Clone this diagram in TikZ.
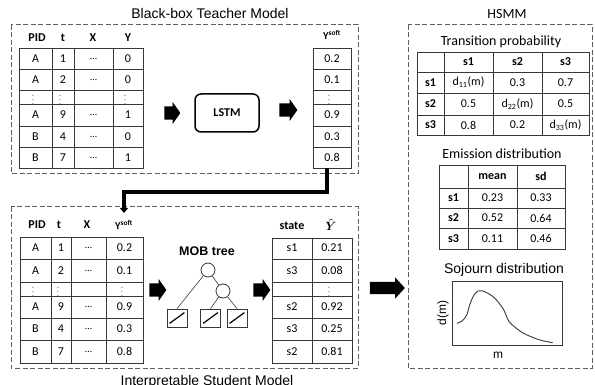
\documentclass[tikz,border=0pt]{standalone}
\usepackage{amsmath}
\usepackage{fontspec}
\setmainfont{Carlito}
\newfontfamily\arialfont{Liberation Sans}
\usepackage{tikz}
\usetikzlibrary{positioning,arrows.meta,shapes.arrows}
\definecolor{panelgray}{RGB}{95,95,95}
\definecolor{rulegray}{RGB}{55,55,55}
\newcommand{\vd}{{\fontsize{7}{7}\selectfont$\vdots$}}
\newcommand{\xdots}{{\fontsize{10}{10}\selectfont\ldots}}
\tikzset{
  dashbox/.style={draw=panelgray, line width=1pt, dash pattern=on 5pt off 2.5pt},
  tabline/.style={draw=rulegray, line width=0.8pt},
  cell/.style={inner sep=0pt, font=\fontsize{12}{14}\selectfont},
  headcell/.style={inner sep=0pt, font=\fontsize{12}{14}\selectfont\bfseries},
  softhead/.style={inner sep=0pt, font=\fontsize{10.5}{12}\selectfont\bfseries},
  paneltitle/.style={inner sep=0pt, font=\arialfont\fontsize{14}{16}\selectfont},
  subtitle/.style={inner sep=0pt, font=\fontsize{14}{16}\selectfont},
  axislabel/.style={inner sep=0pt, font=\arialfont\fontsize{12}{14}\selectfont},
  blockarrow/.style={single arrow, fill=black, inner xsep=0pt, inner ysep=6.5pt,
    single arrow head extend=4.5pt, single arrow tip angle=110, single arrow head indent=0pt},
  leafbox/.style={draw=rulegray, line width=0.8pt, minimum width=20pt, minimum height=18pt, inner sep=0pt},
  splitnode/.style={circle, draw=rulegray, line width=0.8pt, minimum size=14pt, inner sep=0pt},
  treeedge/.style={draw=rulegray, line width=0.6pt},
  feed/.style={line width=3.3pt, -{Triangle[width=8pt,length=5pt]}},
}
\begin{document}
\begin{tikzpicture}[x=1pt,y=-1pt]
  \useasboundingbox (0,0) rectangle (595,385);

  % panels
  \draw[dashbox] (11,25) rectangle (358,174);
  \draw[dashbox] (11,207) rectangle (358,368);
  \draw[dashbox] (408,25) rectangle (592,368);
  \node[paneltitle, anchor=base] (teacher) at (210,18.5) {Black-box Teacher Model};
  \node[paneltitle, anchor=base] (student) at (207,385) {Interpretable Student Model};
  \node[subtitle, anchor=base] (hsmm) at (507,19) {HSMM};

  % teacher: input table
  \draw[tabline] (19,48) rectangle (143,168);
  \foreach \ry in {69,90,104,126,147} \draw[tabline] (19,\ry) -- (143,\ry);
  \foreach \rx in {52,74,113} \draw[tabline] (\rx,48) -- (\rx,168);
  \foreach \lab/\rx [count=\c] in {PID/37,t/63,X/93,Y/128}
    \node[headcell] (ih\c) at (\rx,38) {\lab};
  \foreach \pid/\tm/\yy/\ry [count=\r] in {A/1/0/58.5,A/2/0/79.5,A/9/1/115,B/4/0/136.5,B/7/1/157.5} {
    \node[cell] (ip\r) at (35.5,\ry) {\pid};
    \node[cell] (it\r) at (63,\ry) {\tm};
    \node[cell] (ix\r) at (93.5,\ry) {\xdots};
    \node[cell] (iy\r) at (128,\ry) {\yy};
  }
  \node[cell] (ipd) at (33,97) {\vd};
  \node[cell] (itd) at (60,97) {\vd};
  \node[cell] (iyd) at (125,97) {\vd};

  \node[blockarrow, minimum height=16pt] (arr1) at (170,113) {};
  \node[headcell, draw, line width=1.5pt, rounded corners=6pt, minimum width=64pt, minimum height=38pt] (lstm) at (227,113) {LSTM};
  \node[blockarrow, minimum height=18pt] (arr2) at (286,110) {};

  % teacher: soft labels
  \draw[tabline] (313,48) rectangle (351,168);
  \foreach \ry in {69,90,104,126,147} \draw[tabline] (313,\ry) -- (351,\ry);
  \node[softhead] (ysh) at (332,35) {Y\textsuperscript{soft}};
  \foreach \sv/\ry [count=\r] in {0.2/58.5,0.1/79.5,0.9/115,0.3/136.5,0.8/157.5}
    \node[cell] (ys\r) at (332,\ry) {\sv};
  \node[cell] (ysd) at (329,97) {\vd};

  % hand over to student
  \coordinate (ysout) at (327,168);
  \coordinate (ysin) at (124,213);
  \draw[feed] (ysout) -- ++(0,24) -| (ysin);

  % student: input table
  \draw[tabline] (20,237) rectangle (143,363);
  \foreach \ry in {259,282,296,318,340} \draw[tabline] (20,\ry) -- (143,\ry);
  \foreach \rx in {51,71,106} \draw[tabline] (\rx,237) -- (\rx,363);
  \foreach \lab/\rx [count=\c] in {PID/37,t/59,X/87}
    \node[headcell] (sh\c) at (\rx,225) {\lab};
  \node[softhead] (sh4) at (124,225) {Y\textsuperscript{soft}};
  \foreach \pid/\tm/\yy/\ry [count=\r] in {A/1/0.2/248,A/2/0.1/270.5,A/9/0.9/307,B/4/0.3/329,B/7/0.8/351.5} {
    \node[cell] (sp\r) at (35.5,\ry) {\pid};
    \node[cell] (st\r) at (61,\ry) {\tm};
    \node[cell] (sx\r) at (88.5,\ry) {\xdots};
    \node[cell] (sy\r) at (124.5,\ry) {\yy};
  }
  \node[cell] (spd) at (33,289) {\vd};
  \node[cell] (std) at (58,289) {\vd};
  \node[cell] (syd) at (122,289) {\vd};

  \node[blockarrow, minimum height=17pt] (arr3) at (155.5,290) {};

  % MOB tree
  \node[inner sep=0pt, font=\arialfont\fontsize{12.5}{14}\selectfont\bfseries, anchor=base] (mob) at (207,255) {MOB tree};
  \node[splitnode] (root) at (208,270) {};
  \node[splitnode] (inner) at (223,291) {};
  \node[leafbox] (leafa) at (177,318) {};
  \node[leafbox] (leafb) at (210.5,318) {};
  \node[leafbox] (leafc) at (237,318) {};
  \draw[treeedge] (root) -- (leafa.north);
  \draw[treeedge] (root) -- (inner);
  \draw[treeedge] (inner) -- (leafb.north);
  \draw[treeedge] (inner) -- (leafc.north);
  \foreach \n in {leafa,leafb,leafc}
    \draw[line width=1.2pt] ([shift={(3,-4)}]\n.south west) -- ([shift={(-3,4)}]\n.north east);

  \node[blockarrow, minimum height=17pt] (arr4) at (259.5,290) {};

  % student: states and predictions
  \draw[tabline] (272,238) rectangle (352,363);
  \foreach \ry in {259,282,296,318,340} \draw[tabline] (272,\ry) -- (352,\ry);
  \draw[tabline] (312,238) -- (312,363);
  \node[headcell] (sth) at (292,226) {state};
  \node[headcell] (yhh) at (331,225) {$\boldsymbol{\hat{Y}}$};
  \foreach \st/\pv/\ry [count=\r] in {s1/0.21/248,s3/0.08/270.5,s2/0.92/307,s3/0.25/329,s2/0.81/351.5} {
    \node[cell] (ss\r) at (292,\ry) {\st};
    \node[cell] (sv\r) at (332,\ry) {\pv};
  }
  \node[cell] (svd) at (329,289) {\vd};

  \node[blockarrow, minimum height=35pt, inner ysep=6pt, single arrow tip angle=95] (arr5) at (384.5,288) {};

  % HSMM: transition probability
  \node[subtitle, anchor=base] (trans) at (501,46) {Transition probability};
  \draw[tabline] (417,52) rectangle (589,135);
  \foreach \ry in {72,93,115} \draw[tabline] (417,\ry) -- (589,\ry);
  \foreach \rx in {444,493,542} \draw[tabline] (\rx,52) -- (\rx,135);
  \foreach \lab/\rx [count=\c] in {s1/468.5,s2/517.5,s3/565.5}
    \node[headcell] (tc\c) at (\rx,62) {\lab};
  \foreach \lab/\ry [count=\r] in {s1/82.5,s2/104,s3/125}
    \node[headcell] (tr\r) at (430.5,\ry) {\lab};
  \node[cell] (t11) at (468.5,82.5) {d\textsubscript{11}(m)};
  \node[cell] (t12) at (517.5,82.5) {0.3};
  \node[cell] (t13) at (565.5,82.5) {0.7};
  \node[cell] (t21) at (468.5,104) {0.5};
  \node[cell] (t22) at (517.5,104) {d\textsubscript{22}(m)};
  \node[cell] (t23) at (565.5,104) {0.5};
  \node[cell] (t31) at (468.5,125) {0.8};
  \node[cell] (t32) at (517.5,125) {0.2};
  \node[cell] (t33) at (565.5,125) {d\textsubscript{33}(m)};

  % HSMM: emission distribution
  \node[subtitle, anchor=base] (emis) at (502,158.5) {Emission distribution};
  \draw[tabline] (439,165) rectangle (565,249);
  \foreach \ry in {188,208,228} \draw[tabline] (439,\ry) -- (565,\ry);
  \foreach \rx in {468,517} \draw[tabline] (\rx,165) -- (\rx,249);
  \node[headcell] (emh1) at (492.5,176.5) {mean};
  \node[headcell] (emh2) at (541,176.5) {sd};
  \foreach \st/\mv/\sv/\ry [count=\r] in {s1/0.23/0.33/198,s2/0.52/0.64/218,s3/0.11/0.46/238.5} {
    \node[headcell] (er\r) at (453.5,\ry) {\st};
    \node[cell] (em\r) at (492.5,\ry) {\mv};
    \node[cell] (es\r) at (541,\ry) {\sv};
  }

  % HSMM: sojourn distribution
  \node[paneltitle, anchor=base] (soj) at (504,273.5) {Sojourn distribution};
  \draw[tabline, line width=1pt] (452,281) rectangle (562,345);
  \draw[line width=0.9pt, rulegray] plot[smooth, tension=0.6] coordinates {(456.7,323.3) (462,321) (466.7,315) (470,304) (475,293.5) (481.7,290.7) (493,296.7) (502,307) (506,315) (509,321.5) (516,328) (525,334) (540,340) (552.7,342.7)};
  \node[axislabel, rotate=90] (dm) at (443,313) {d(m)};
  \node[axislabel] (mm) at (498,355) {m};
\end{tikzpicture}
\end{document}
